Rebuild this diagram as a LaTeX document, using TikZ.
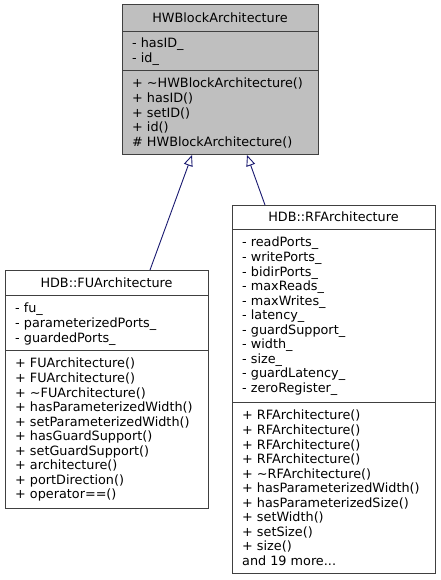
\documentclass[tikz,border=0pt]{standalone}
\usepackage{fontspec}
\setmainfont{DejaVu Sans}
\usetikzlibrary{arrows.meta}
\definecolor{boxborder}{HTML}{404040}
\definecolor{boxgray}{HTML}{BFBFBF}
\definecolor{edgeblue}{HTML}{191970}
\begin{document}
\begin{tikzpicture}[x=1pt,y=-1pt,
  umlbox/.style={draw=boxborder, line width=1pt, anchor=north west, inner sep=0pt, outer sep=0pt},
  umltitle/.style={anchor=center, inner sep=0pt, font=\fontsize{12.8}{14.6}\selectfont},
  umltext/.style={anchor=north west, inner sep=0pt, align=left, font=\fontsize{12.8}{14.55}\selectfont},
  sepline/.style={draw=boxborder, line width=1pt},
  inherit/.style={draw=edgeblue, line width=0.9pt, -{Triangle[open, length=11pt, width=9pt, fill=white]}}
]
\useasboundingbox (0,0) rectangle (440,580);
% HWBlockArchitecture
\node[umlbox, fill=boxgray, minimum width=196pt, minimum height=150pt] (hw) at (122,5) {};
\node[umltitle] (hwt) at (220,18) {HWBlockArchitecture};
\draw[sepline] (122,32) -- (318,32);
\draw[sepline] (122,71) -- (318,71);
\node[umltext] (hwa) at (132,38) {- hasID\_\\- id\_};
\node[umltext] (hwm) at (132,78) {+ \textasciitilde HWBlockArchitecture()\\+ hasID()\\+ setID()\\+ id()\\\# HWBlockArchitecture()};
% FUArchitecture
\node[umlbox, fill=white, minimum width=203pt, minimum height=238pt] (fu) at (5,270) {};
\node[umltitle] (fut) at (106.5,283) {HDB::FUArchitecture};
\draw[sepline] (5,295) -- (208,295);
\draw[sepline] (5,350) -- (208,350);
\node[umltext] (fua) at (15,303) {- fu\_\\- parameterizedPorts\_\\- guardedPorts\_};
\node[umltext] (fum) at (15,358) {+ FUArchitecture()\\+ FUArchitecture()\\+ \textasciitilde FUArchitecture()\\+ hasParameterizedWidth()\\+ setParameterizedWidth()\\+ hasGuardSupport()\\+ setGuardSupport()\\+ architecture()\\+ portDirection()\\+ operator==()};
% RFArchitecture
\node[umlbox, fill=white, minimum width=203pt, minimum height=368pt] (rf) at (232,205) {};
\node[umltitle] (rft) at (333.5,217) {HDB::RFArchitecture};
\draw[sepline] (232,229) -- (435,229);
\draw[sepline] (232,402) -- (435,402);
\node[umltext] (rfa) at (242,237) {- readPorts\_\\- writePorts\_\\- bidirPorts\_\\- maxReads\_\\- maxWrites\_\\- latency\_\\- guardSupport\_\\- width\_\\- size\_\\- guardLatency\_\\- zeroRegister\_};
\node[umltext] (rfm) at (242,410) {+ RFArchitecture()\\+ RFArchitecture()\\+ RFArchitecture()\\+ RFArchitecture()\\+ \textasciitilde RFArchitecture()\\+ hasParameterizedWidth()\\+ hasParameterizedSize()\\+ setWidth()\\+ setSize()\\+ size()\\and 19 more...};
% inheritance
\coordinate (hwL) at (192,155);
\coordinate (hwR) at (247,155);
\coordinate (fuT) at (150,270);
\coordinate (rfT) at (265,205);
\draw[inherit] (fuT) -- (hwL);
\draw[inherit] (rfT) -- (hwR);
\end{tikzpicture}
\end{document}
